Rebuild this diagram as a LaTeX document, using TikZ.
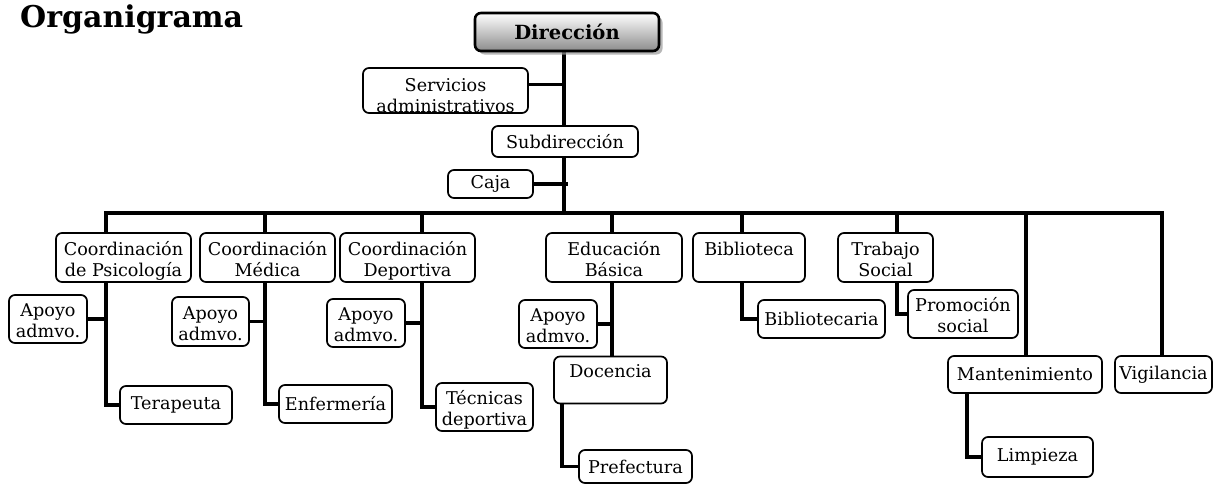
\documentclass[tikz,border=0pt]{standalone}
\usepackage{fontspec}
\setmainfont{DejaVu Serif}
\usetikzlibrary{backgrounds,shadows}
\newcommand\toprl{\rule{0pt}{21pt}}
\newcommand\botrl{\rule[-5pt]{0pt}{5pt}}
\tikzset{
  txt/.style={align=center, inner sep=0pt, font=\fontsize{17.6}{21}\selectfont},
  box/.style={draw, line width=1.7pt, rounded corners=6pt, fill=white, txt},
  wh/.style 2 args={minimum width=#1pt, minimum height=#2pt},
  dirbox/.style={draw, line width=2.6pt, rounded corners=6pt, inner sep=0pt,
    top color=white, bottom color=black!45,
    drop shadow={shadow xshift=3.5pt, shadow yshift=-3.5pt, fill=black!40, opacity=0.7},
    font=\fontsize{19.5}{22}\selectfont\bfseries},
  conn/.style={line width=3.2pt, line join=miter},
}
\begin{document}
\begin{tikzpicture}[x=1pt, y=-1pt]
\useasboundingbox (0,0) rectangle (1214,485);
\node[anchor=base west, inner sep=0pt, font=\fontsize{30}{34}\selectfont\bfseries] (title) at (20,27) {Organigrama};

% top
\node[dirbox, wh={184}{38}] (dir) at (567,32) {Dirección};
\node[box, wh={165}{45}, path picture={
    \node[txt] (servtext) at (path picture bounding box.center)
      {\rule{0pt}{27pt}Servicios\\administrativos\botrl};}] (serv) at (445.5,90.5) {};
\node[box, wh={146}{31}] (sub) at (565,141.5) {Subdirección};
\node[box, wh={85}{28}] (caja) at (490.5,184) {Caja};

% level 2
\node[box, wh={135}{49}] (psi) at (123.5,257.5) {\toprl Coordinación\\de Psicología\botrl};
\node[box, wh={135}{49}] (med) at (267.5,257.5) {\toprl Coordinación\\Médica\botrl};
\node[box, wh={135}{49}] (dep) at (407.5,257.5) {\toprl Coordinación\\Deportiva\botrl};
\node[box, wh={136}{49}] (edu) at (614,257.5) {\toprl Educación\\Básica\botrl};
\node[box, wh={112}{49}] (bib) at (749,257.5) {\toprl Biblioteca\\\botrl};
\node[box, wh={95}{49}] (tra) at (885.5,257.5) {\toprl Trabajo\\Social\botrl};
\node[box, wh={154}{37}] (man) at (1025,374.5) {Mantenimiento};
\node[box, wh={97}{37}] (vig) at (1163.5,374.5) {Vigilancia};

% level 3
\node[box, wh={78}{48}] (apsi) at (48,319) {\toprl Apoyo\\admvo.\botrl};
\node[box, wh={77}{49}] (amed) at (210.5,321.5) {\toprl Apoyo\\admvo.\botrl};
\node[box, wh={78}{48}] (adep) at (366,323) {\toprl Apoyo\\admvo.\botrl};
\node[box, wh={78}{48}] (aedu) at (558,324) {\toprl Apoyo\\admvo.\botrl};
\node[box, wh={112}{38}] (ter) at (176,405) {Terapeuta};
\node[box, wh={113}{38}] (enf) at (335.5,404) {Enfermería};
\node[box, wh={97}{48}] (tec) at (484.5,407) {\toprl Técnicas\\deportiva\botrl};
\node[box, wh={113}{46}] (doc) at (610.5,380) {\toprl Docencia\\\botrl};
\node[box, wh={113}{33}] (pre) at (635.5,466.5) {Prefectura};
\node[box, wh={127}{38}] (bibt) at (821.5,319) {Bibliotecaria};
\node[box, wh={110}{48}] (pro) at (963,314) {\toprl Promoción\\social\botrl};
\node[box, wh={111}{40}] (lim) at (1037.5,457) {Limpieza};

% connection points
\coordinate (mainX) at (564,213);
\coordinate (dpsi) at (106,213);
\coordinate (dmed) at (265,213);
\coordinate (ddep) at (422,213);
\coordinate (dedu) at (612,213);
\coordinate (dbib) at (742,213);
\coordinate (dtra) at (897,213);
\coordinate (dman) at (1026,213);
\coordinate (dvig) at (1162,213);
\coordinate (xdoc) at (562,0);
\coordinate (xman) at (967,0);

\begin{pgfonlayer}{background}
\draw[conn] (dir.south -| mainX) -- (mainX);
\draw[conn] ([yshift=6pt]serv.east) -- ([yshift=6pt]serv.east -| mainX);
\draw[conn] (caja.east) -- ([xshift=4pt]caja.east -| mainX);
\draw[conn] (dpsi |- psi.north) -- (dpsi) -- (dvig) -- (vig.north -| dvig);
\draw[conn] (dpsi) -- (dpsi |- ter.west) -- (ter.west);
\draw[conn] (apsi.east) -- (apsi.east -| dpsi);
\draw[conn] (dmed) -- (dmed |- enf.west) -- (enf.west);
\draw[conn] (amed.east) -- (amed.east -| dmed);
\draw[conn] (ddep) -- (ddep |- tec.west) -- (tec.west);
\draw[conn] (adep.east) -- (adep.east -| ddep);
\draw[conn] (dedu) -- (dedu |- doc.north);
\draw[conn] (aedu.east) -- (aedu.east -| dedu);
\draw[conn] (doc.south -| xdoc) -- (xdoc |- pre.west) -- (pre.west);
\draw[conn] (dbib) -- (dbib |- bibt.west) -- (bibt.west);
\draw[conn] (dtra) -- (dtra |- pro.west) -- (pro.west);
\draw[conn] (dman) -- (dman |- man.north);
\draw[conn] (man.south -| xman) -- (xman |- lim.west) -- (lim.west);
\end{pgfonlayer}
\end{tikzpicture}
\end{document}
